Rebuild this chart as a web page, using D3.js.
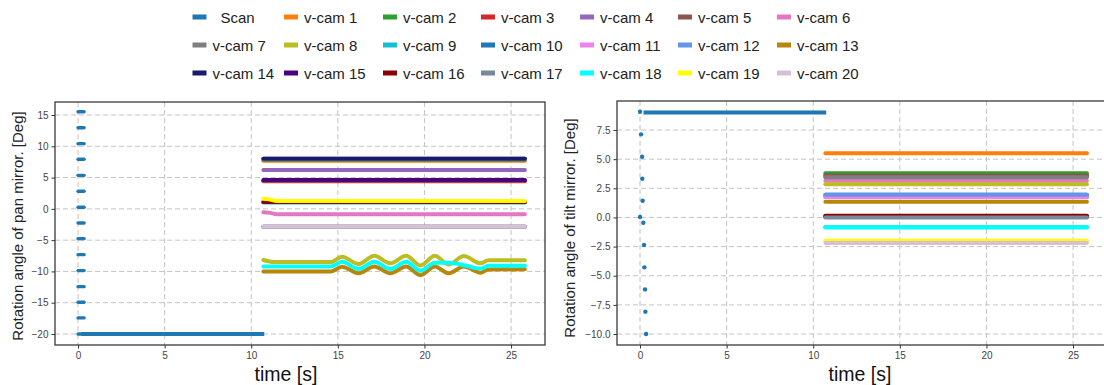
<!DOCTYPE html>
<html>
<head>
<meta charset="utf-8">
<script src="https://cdn.jsdelivr.net/npm/d3@7"></script>
<style>
  body { margin: 0; background: #fff; }
  svg { display: block; font-family: "Liberation Sans", Arial, sans-serif; }
  .tick text { fill: #444; font-size: 10px; }
  .tick line { stroke: #333; }
  .domain { display: none; }
</style>
</head>
<body>
<div id="chart"></div>
<script>
// ---- data ----
const camNames = ["v-cam 1", "v-cam 2", "v-cam 3", "v-cam 4", "v-cam 5", "v-cam 6", "v-cam 7",
  "v-cam 8", "v-cam 9", "v-cam 10", "v-cam 11", "v-cam 12", "v-cam 13", "v-cam 14",
  "v-cam 15", "v-cam 16", "v-cam 17", "v-cam 18", "v-cam 19", "v-cam 20"];
const camColors = ["#ff7f0e", "#2ca02c", "#d62728", "#9467bd", "#8c564b", "#e377c2", "#7f7f7f",
  "#bcbd22", "#17becf", "#1f77b4", "#ee82ee", "#6495ed", "#b8860b", "#191970",
  "#4b0082", "#8b0000", "#778899", "#00ffff", "#ffff00", "#d8bfd8"];
const scanColor = "#1f77b4";

const camTime = [10.7, 25.8];
// constant pan / tilt level of each v-cam (null = see its own series below)
const panLevel = [7.7, 7.85, 4.4, 6.2, 4.5, null, -2.9, null, 1.0, 8.0,
  7.95, 1.1, null, 8.0, 4.6, 1.1, -2.8, null, null, -2.85];
const tiltLevel = [5.5, 3.8, 3.55, 1.75, 3.6, 3.15, 3.45, 2.85, -0.85, 1.95,
  1.75, 1.95, 1.35, 0.05, 0.1, 0.15, 0.0, -0.85, -2.0, -2.2];

// pan series that are not flat
const waveTime = [10.7, 11.3, 14.6, 15.24, 16.2, 17.1, 18.03, 18.94, 19.77, 20.6, 21.4, 22.27, 23.24, 23.7, 25.8];
const panCam8 = [-8.17, -8.5, -8.5, -7.64, -8.81, -7.5, -8.7, -7.5, -9.05, -7.5, -8.9, -7.55, -8.7, -8.2, -8.2];
const panCam13 = [-10.0, -10.0, -10.0, -9.25, -10.3, -9.2, -10.3, -9.2, -10.6, -9.2, -10.3, -9.2, -10.2, -9.7, -9.65];
const panCam18 = [-9.2, -9.2, -9.2, -8.45, -9.6, -8.45, -9.6, -8.45, -9.9, -8.6, -8.6, -9.0, -9.55, -9.1, -9.1];
const settleTime = [10.7, 11.0, 11.5, 25.8];
const panCam6 = [-0.55, -0.6, -0.85, -0.85];
const panCam19 = [1.6, 1.55, 1.25, 1.25];

// scan
const scanPanLevel = [15.53, 12.97, 10.42, 7.92, 5.36, 2.81, 0.25, -2.25, -4.76, -7.32,
  -9.87, -12.43, -14.92, -17.43, -20.0];
const scanPanSpan = [0.0, 0.35];
const scanTiltTime = [0, 0.06, 0.12, 0.13, 0.15, 0, 0.19, 0.23, 0.25, 0.29, 0.31, 0.35];
const scanTiltValue = [9.07, 7.13, 5.21, 3.32, 1.44, 0.04, -0.45, -2.36, -4.28, -6.17, -8.08, -10.0];
const scanHoldTime = [0.2, 10.75];
const scanHoldPan = -20.0;
const scanHoldTilt = 9.0;

const xTicks = [0, 5, 10, 15, 20, 25];
const panTicks = [-20, -15, -10, -5, 0, 5, 10, 15];
const tiltTicks = [-10, -7.5, -5, -2.5, 0, 2.5, 5, 7.5];

// ---- build series ----
const wavy = {7: [waveTime, panCam8], 12: [waveTime, panCam13], 17: [waveTime, panCam18],
  5: [settleTime, panCam6], 18: [settleTime, panCam19]};
const panSeries = camNames.map((n, i) => wavy[i]
  ? wavy[i][0].map((t, j) => [t, wavy[i][1][j]])
  : camTime.map(t => [t, panLevel[i]]));
const tiltSeries = camNames.map((n, i) => camTime.map(t => [t, tiltLevel[i]]));

const W = 1104, H = 385;
const svg = d3.select("#chart").append("svg")
  .attr("width", W).attr("height", H);
svg.append("rect").attr("width", W).attr("height", H).attr("fill", "#fff");

function panel(opt) {
  const x = d3.scaleLinear().domain([-1.33, 26.96]).range([opt.left, opt.right]);
  const y = d3.scaleLinear().domain(opt.yDomain).range([opt.bottom, opt.top]);
  const g = svg.append("g");

  // grid
  g.append("g").selectAll("line").data(xTicks).enter().append("line")
    .attr("x1", d => x(d)).attr("x2", d => x(d))
    .attr("y1", opt.top).attr("y2", opt.bottom)
    .attr("stroke", "#c4c4c4").attr("stroke-dasharray", "5,3");
  g.append("g").selectAll("line").data(opt.yTicks).enter().append("line")
    .attr("y1", d => y(d)).attr("y2", d => y(d))
    .attr("x1", opt.left).attr("x2", opt.right)
    .attr("stroke", "#c4c4c4").attr("stroke-dasharray", "5,3");

  // axes
  g.append("g").attr("transform", `translate(0,${opt.bottom})`)
    .call(d3.axisBottom(x).tickValues(xTicks).tickSize(3.5).tickPadding(3).tickFormat(d3.format("d")));
  g.append("g").attr("transform", `translate(${opt.left},0)`)
    .call(d3.axisLeft(y).tickValues(opt.yTicks).tickSize(3.5).tickPadding(3).tickFormat(opt.fmt));

  const line = d3.line().x(d => x(d[0])).y(d => y(d[1])).curve(d3.curveMonotoneX);
  const plot = g.append("g");

  // scan
  opt.drawScan(plot, x, y);
  plot.append("line")
    .attr("x1", x(scanHoldTime[0])).attr("x2", x(scanHoldTime[1]))
    .attr("y1", y(opt.hold)).attr("y2", y(opt.hold))
    .attr("stroke", scanColor).attr("stroke-width", 4);

  // cams
  plot.selectAll(".cam").data(opt.series).enter().append("path")
    .attr("class", "cam")
    .attr("d", line)
    .attr("fill", "none")
    .attr("stroke", (d, i) => camColors[i])
    .attr("stroke-width", 4)
    .attr("stroke-linecap", "round");

  // frame
  g.append("rect")
    .attr("x", opt.left).attr("y", opt.top)
    .attr("width", opt.right - opt.left).attr("height", opt.bottom - opt.top)
    .attr("fill", "none").attr("stroke", "#3a3a3a").attr("stroke-width", 1.3);

  svg.append("text")
    .attr("x", opt.xLabelX).attr("y", 381)
    .attr("text-anchor", "middle").attr("font-size", "19.5px").attr("fill", "#111")
    .text("time [s]");
  svg.append("text")
    .attr("transform", `translate(${opt.yLabelX},${opt.yLabelY}) rotate(-90)`)
    .attr("text-anchor", "middle").attr("font-size", "15px").attr("fill", "#222")
    .text(opt.yLabel);
}

const minusFmt = f => d => d3.format(f)(d).replace("-", "\u2212");

panel({
  left: 55, right: 545, top: 102, bottom: 345,
  yDomain: [-21.76, 17.08], yTicks: panTicks, fmt: minusFmt("d"),
  series: panSeries, hold: scanHoldPan,
  xLabelX: 286, yLabelX: 23, yLabelY: 226,
  yLabel: "Rotation angle of pan mirror. [Deg]",
  drawScan: (p, x, y) => {
    p.selectAll(".sp").data(scanPanLevel).enter().append("line")
      .attr("x1", x(scanPanSpan[0])).attr("x2", x(scanPanSpan[1]))
      .attr("y1", d => y(d)).attr("y2", d => y(d))
      .attr("stroke", scanColor).attr("stroke-width", 3.4).attr("stroke-linecap", "round");
  }
});

panel({
  left: 617, right: 1107, top: 101, bottom: 345,
  yDomain: [-10.94, 9.99], yTicks: tiltTicks, fmt: minusFmt(".1f"),
  series: tiltSeries, hold: scanHoldTilt,
  xLabelX: 860, yLabelX: 575, yLabelY: 228,
  yLabel: "Rotation angle of tilt mirror. [Deg]",
  drawScan: (p, x, y) => {
    p.selectAll(".st").data(scanTiltTime).enter().append("circle")
      .attr("cx", d => x(d)).attr("cy", (d, i) => y(scanTiltValue[i]))
      .attr("r", 2.2).attr("fill", scanColor);
  }
});

// legend
const legendNames = ["Scan"].concat(camNames);
const legendColors = [scanColor].concat(camColors);
const colTextX = [212.5, 304, 403, 501, 600, 698, 797];
const rowY = [17, 45, 73];
const leg = svg.append("g").attr("font-size", "15px");
legendNames.forEach((name, k) => {
  const tx = colTextX[k % 7], cy = rowY[Math.floor(k / 7)];
  leg.append("rect")
    .attr("x", tx - 20).attr("y", cy - 2.5).attr("width", 14).attr("height", 5)
    .attr("fill", legendColors[k]);
  leg.append("text")
    .attr("x", tx + (k === 0 ? 8 : 0)).attr("y", cy + 5.5)
    .attr("fill", "#222")
    .text(name);
});
</script>
</body>
</html>
